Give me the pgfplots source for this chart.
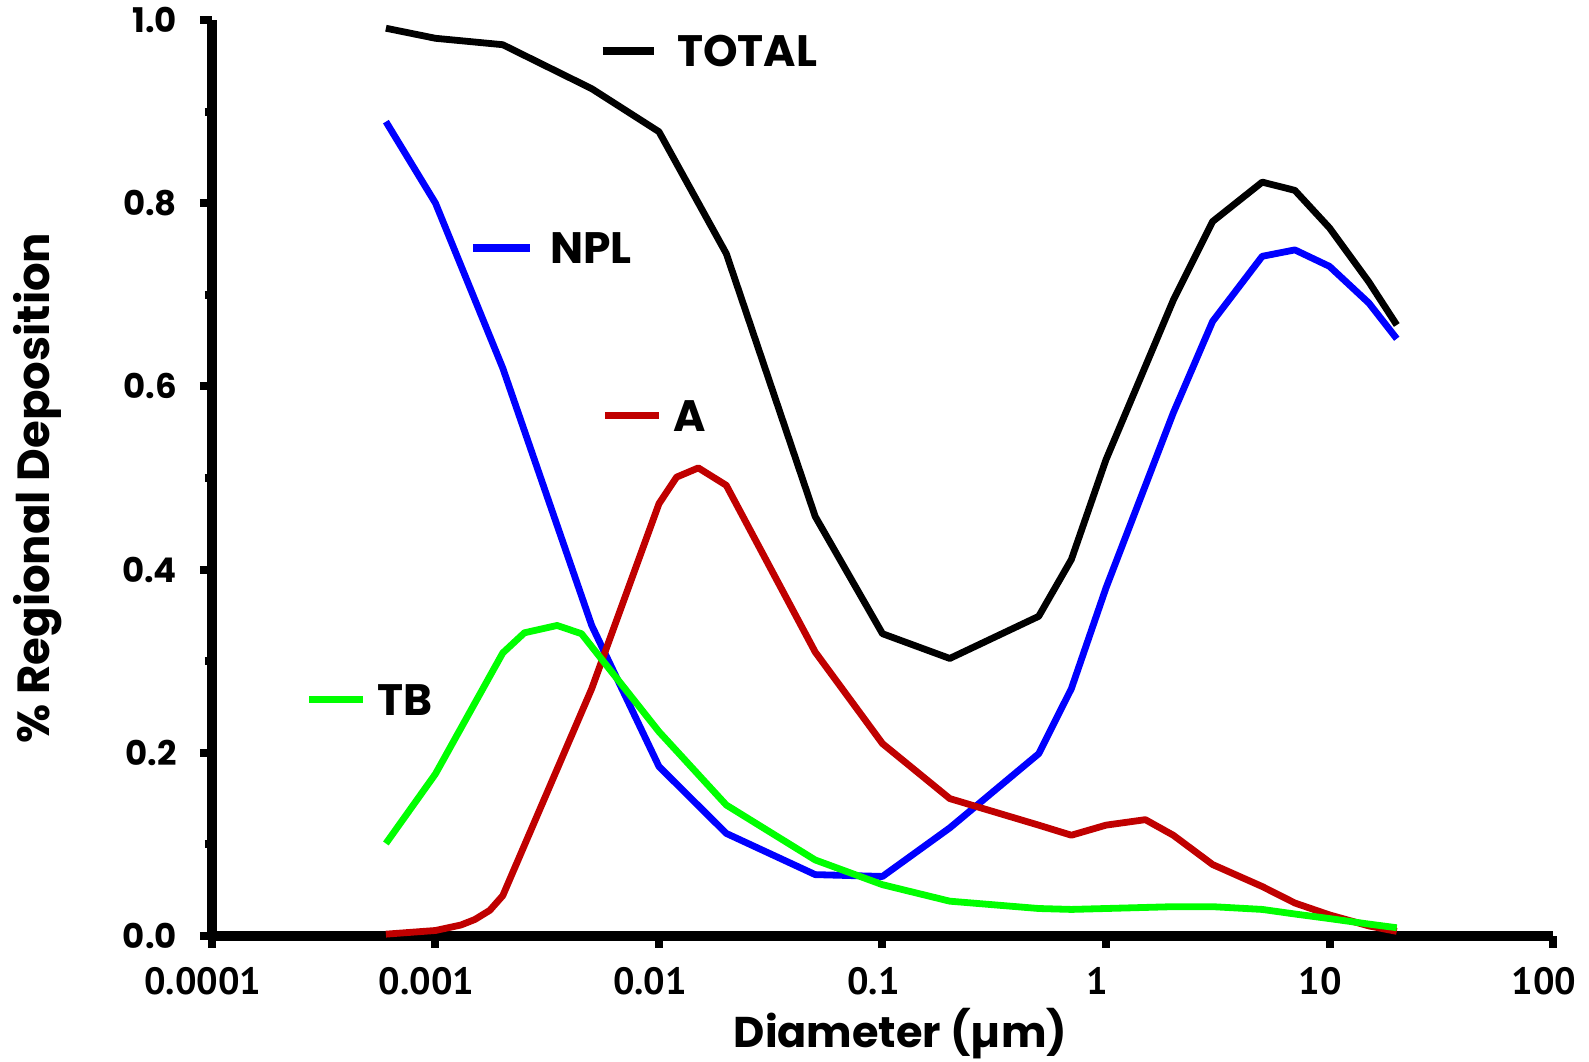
\documentclass[border=0pt]{standalone}
\usepackage{fontspec}
\setmainfont{Poppins}
\newfontfamily\tickfont{PT Sans}
\usepackage{pgfplots}
\pgfplotsset{compat=1.18}
\definecolor{cred}{RGB}{192,0,0}
\definecolor{cgreen}{RGB}{0,255,0}
\definecolor{cblue}{RGB}{0,0,255}
\begin{document}
\begin{tikzpicture}
\begin{axis}[name=ax, scale only axis, width=670.5pt, height=458pt,
  xmode=log, xmin=1e-4, xmax=100, ymin=0, ymax=1,
  axis x line*=bottom, axis y line*=left,
  axis line style={line width=5pt, black},
  xtick={1e-4,1e-3,1e-2,1e-1,1,10,100},
  xticklabels={0.0001,0.001,0.01,0.1,1,10,100},
  xminorticks=false,
  ytick={0,0.2,0.4,0.6,0.8,1},
  yticklabels={0.0,0.2,0.4,0.6,0.8,1.0},
  minor ytick={0.1,0.3,0.5,0.7,0.9},
  tick align=outside,
  major tick length=6pt, minor tick length=3.5pt,
  every tick/.style={line width=4pt, black},
  xticklabel style={font=\tickfont\bfseries\fontsize{19}{20}\selectfont, yshift=-6pt, xshift=-4.5pt},
  yticklabel style={font=\bfseries\fontsize{17}{20}\selectfont, xshift=-8pt},
  clip=false,
]
\addplot[black, line width=3.4pt, line join=round] coordinates {
(0.0006,0.991)(0.001,0.980)(0.002,0.973)(0.005,0.925)(0.01,0.878)(0.02,0.745)
(0.05,0.458)(0.1,0.330)(0.2,0.303)(0.5,0.349)(0.7,0.411)(1,0.520)(2,0.694)
(3,0.780)(5,0.823)(7,0.814)(10,0.773)(15,0.714)(20,0.667)};
\addplot[cblue, line width=3.4pt, line join=round] coordinates {
(0.0006,0.889)(0.001,0.800)(0.002,0.620)(0.005,0.339)(0.01,0.185)(0.02,0.112)
(0.05,0.067)(0.1,0.065)(0.2,0.118)(0.5,0.199)(0.7,0.270)(1,0.380)(2,0.571)
(3,0.671)(5,0.742)(7,0.749)(10,0.731)(15,0.691)(20,0.652)};
\addplot[cred, line width=3.4pt, line join=round] coordinates {
(0.0006,0.002)(0.001,0.006)(0.0013,0.012)(0.0015,0.018)(0.00175,0.028)(0.002,0.044)
(0.005,0.270)(0.01,0.472)(0.012,0.501)(0.015,0.511)(0.02,0.492)(0.05,0.310)
(0.1,0.210)(0.2,0.150)(0.5,0.121)(0.7,0.110)(1,0.121)(1.5,0.127)(2,0.110)
(3,0.078)(5,0.054)(7,0.036)(10,0.023)(15,0.011)(20,0.005)};
\addplot[cgreen, line width=3.4pt, line join=round] coordinates {
(0.0006,0.101)(0.001,0.177)(0.002,0.309)(0.0025,0.331)(0.0035,0.339)(0.0045,0.330)
(0.01,0.223)(0.02,0.143)(0.05,0.083)(0.1,0.056)(0.2,0.038)(0.5,0.030)(0.7,0.029)
(1,0.030)(2,0.032)(3,0.032)(5,0.029)(7,0.024)(10,0.019)(15,0.013)(20,0.009)};
% in-plot labels
\draw[black, line width=3.8pt] (axis cs:0.0056,0.966) -- (axis cs:0.0095,0.966);
\node[anchor=west, inner sep=0pt, font=\bfseries\fontsize{22}{24}\selectfont] at (axis cs:0.012,0.966) {TOTAL};
\draw[cblue, line width=3.8pt] (axis cs:0.00147,0.751) -- (axis cs:0.00265,0.751);
\node[anchor=west, inner sep=0pt, font=\bfseries\fontsize{22}{24}\selectfont] at (axis cs:0.00325,0.751) {NPL};
\draw[cred, line width=3.8pt] (axis cs:0.00573,0.568) -- (axis cs:0.01,0.568);
\node[anchor=west, inner sep=0pt, font=\bfseries\fontsize{22}{24}\selectfont] at (axis cs:0.01156,0.568) {A};
\draw[cgreen, line width=3.8pt] (axis cs:0.000272,0.258) -- (axis cs:0.000474,0.258);
\node[anchor=west, inner sep=0pt, font=\bfseries\fontsize{22}{24}\selectfont] at (axis cs:0.000547,0.258) {TB};
\end{axis}
\node[font=\bfseries\fontsize{21.5}{24}\selectfont] at ([xshift=9pt,yshift=-49pt]ax.south) {Diameter (µm)};
\node[rotate=90, font=\bfseries\fontsize{22.5}{24}\selectfont] at ([xshift=-87pt,yshift=-5pt]ax.west) {\% Regional Deposition};
\pgfresetboundingbox
\path ([shift={(-106pt,-63pt)}]ax.south west) rectangle ([shift={(18pt,10pt)}]ax.north east);
\end{tikzpicture}
\end{document}
